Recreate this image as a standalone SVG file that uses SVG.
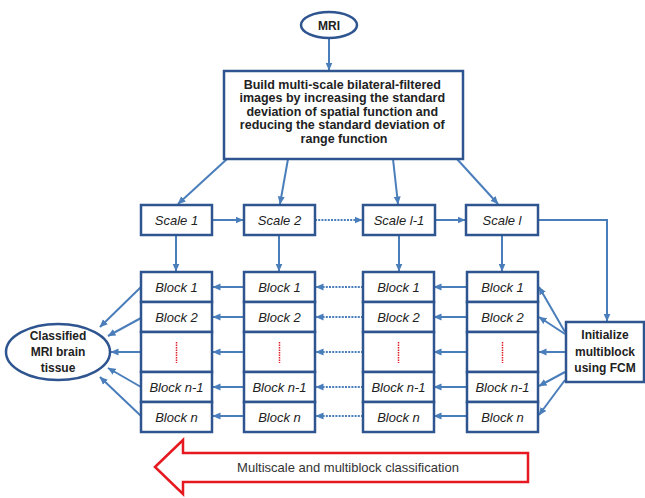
<svg xmlns="http://www.w3.org/2000/svg" width="645" height="498" viewBox="0 0 645 498">
<defs>
<marker id="ah" markerUnits="userSpaceOnUse" markerWidth="8" markerHeight="8" viewBox="0 0 8 8" refX="7.5" refY="4" orient="auto">
<path d="M0,0.5 L8,4 L0,7.5 Z" fill="#4a7ebb"/>
</marker>
<style>
.box{fill:#fff;stroke:#2f5590;stroke-width:2.5}
.c{fill:none;stroke:#4a7ebb;stroke-width:2;marker-end:url(#ah)}
.d{fill:none;stroke:#4a7ebb;stroke-width:2;stroke-dasharray:2 1.2;marker-end:url(#ah)}
.rd{stroke:#e0202a;stroke-width:1.5;stroke-dasharray:1.5 1}
.b{font-family:"Liberation Sans",Arial,sans-serif;font-weight:bold;font-size:12px;fill:#222;text-anchor:middle}
.i{font-family:"Liberation Sans",Arial,sans-serif;font-style:italic;font-size:13px;fill:#222;text-anchor:middle}
</style>
</defs>

<g id="connectors">
<line class="c" x1="329" y1="39" x2="329" y2="70"/>
<line class="c" x1="227" y1="159" x2="178" y2="204"/>
<line class="c" x1="288" y1="159" x2="280" y2="204"/>
<line class="c" x1="393" y1="159" x2="398" y2="204"/>
<line class="c" x1="457" y1="159" x2="498" y2="204"/>
<line class="c" x1="212" y1="220" x2="243" y2="220"/>
<line class="d" x1="315" y1="220" x2="362" y2="220"/>
<line class="c" x1="435" y1="220" x2="465" y2="220"/>
<path class="c" d="M538,220 H607 V321"/>
<line class="c" x1="176" y1="235" x2="176" y2="271"/>
<line class="c" x1="279" y1="235" x2="279" y2="271"/>
<line class="c" x1="399" y1="235" x2="399" y2="271"/>
<line class="c" x1="502" y1="235" x2="502" y2="271"/>
<line class="c" x1="245" y1="287" x2="213" y2="287"/>
<line class="c" x1="245" y1="317" x2="213" y2="317"/>
<line class="c" x1="245" y1="352" x2="213" y2="352"/>
<line class="c" x1="245" y1="387" x2="213" y2="387"/>
<line class="c" x1="245" y1="416" x2="213" y2="416"/>
<line class="d" x1="363" y1="287" x2="316" y2="287"/>
<line class="d" x1="363" y1="317" x2="316" y2="317"/>
<line class="d" x1="363" y1="352" x2="316" y2="352"/>
<line class="d" x1="363" y1="387" x2="316" y2="387"/>
<line class="d" x1="363" y1="416" x2="316" y2="416"/>
<line class="c" x1="467" y1="287" x2="434" y2="287"/>
<line class="c" x1="467" y1="317" x2="434" y2="317"/>
<line class="c" x1="467" y1="352" x2="434" y2="352"/>
<line class="c" x1="467" y1="387" x2="434" y2="387"/>
<line class="c" x1="467" y1="416" x2="434" y2="416"/>
<line class="c" x1="141" y1="287" x2="100" y2="327"/>
<line class="c" x1="141" y1="318" x2="108" y2="336"/>
<line class="c" x1="141" y1="352" x2="111" y2="352"/>
<line class="c" x1="141" y1="387" x2="108" y2="368"/>
<line class="c" x1="141" y1="416" x2="100" y2="377"/>
<line class="c" x1="565" y1="332" x2="539" y2="287"/>
<line class="c" x1="565" y1="334" x2="539" y2="317"/>
<line class="c" x1="565" y1="352" x2="539" y2="352"/>
<line class="c" x1="565" y1="372" x2="539" y2="386"/>
<line class="c" x1="565" y1="380" x2="539" y2="415"/>
</g>

<g id="mri">
<ellipse class="box" cx="329" cy="25" rx="28" ry="13"/>
<text class="b" x="329" y="29.5">MRI</text>
</g>

<g id="build">
<rect class="box" x="224" y="71" width="239" height="88"/>
<text class="b" style="font-size:12.5px">
<tspan x="344" y="88.5">Build multi-scale bilateral-filtered</tspan>
<tspan x="344" y="102">images by increasing the standard</tspan>
<tspan x="344" y="115.5">deviation of spatial function and</tspan>
<tspan x="344" y="129">reducing the standard deviation of</tspan>
<tspan x="344" y="142.5">range function</tspan>
</text>
</g>

<g id="scale1"><rect class="box" x="141" y="205" width="71" height="30"/><text class="i" x="176.5" y="224.5">Scale 1</text></g>
<g id="scale2"><rect class="box" x="244" y="205" width="71" height="30"/><text class="i" x="279.5" y="224.5">Scale 2</text></g>
<g id="scale-l-1"><rect class="box" x="363" y="205" width="72" height="30"/><text class="i" x="399" y="224.5">Scale l-1</text></g>
<g id="scale-l"><rect class="box" x="466" y="205" width="72" height="30"/><text class="i" x="502" y="224.5">Scale l</text></g>

<g id="col1">
<rect class="box" x="141" y="272" width="71" height="30"/>
<rect class="box" x="141" y="302" width="71" height="30"/>
<rect class="box" x="141" y="332" width="71" height="40"/>
<rect class="box" x="141" y="372" width="71" height="30"/>
<rect class="box" x="141" y="402" width="71" height="30"/>
<text class="i" x="176.5" y="291.5">Block 1</text>
<text class="i" x="176.5" y="321.5">Block 2</text>
<line class="rd" x1="176.5" y1="342" x2="176.5" y2="363"/>
<text class="i" x="176.5" y="391.5">Block n-1</text>
<text class="i" x="176.5" y="421.5">Block n</text>
</g>

<g id="col2">
<rect class="box" x="244" y="272" width="71" height="30"/>
<rect class="box" x="244" y="302" width="71" height="30"/>
<rect class="box" x="244" y="332" width="71" height="40"/>
<rect class="box" x="244" y="372" width="71" height="30"/>
<rect class="box" x="244" y="402" width="71" height="30"/>
<text class="i" x="279.5" y="291.5">Block 1</text>
<text class="i" x="279.5" y="321.5">Block 2</text>
<line class="rd" x1="279.5" y1="342" x2="279.5" y2="363"/>
<text class="i" x="279.5" y="391.5">Block n-1</text>
<text class="i" x="279.5" y="421.5">Block n</text>
</g>

<g id="col3">
<rect class="box" x="363" y="272" width="71" height="30"/>
<rect class="box" x="363" y="302" width="71" height="30"/>
<rect class="box" x="363" y="332" width="71" height="40"/>
<rect class="box" x="363" y="372" width="71" height="30"/>
<rect class="box" x="363" y="402" width="71" height="30"/>
<text class="i" x="398.5" y="291.5">Block 1</text>
<text class="i" x="398.5" y="321.5">Block 2</text>
<line class="rd" x1="398.5" y1="342" x2="398.5" y2="363"/>
<text class="i" x="398.5" y="391.5">Block n-1</text>
<text class="i" x="398.5" y="421.5">Block n</text>
</g>

<g id="col4">
<rect class="box" x="467" y="272" width="71" height="30"/>
<rect class="box" x="467" y="302" width="71" height="30"/>
<rect class="box" x="467" y="332" width="71" height="40"/>
<rect class="box" x="467" y="372" width="71" height="30"/>
<rect class="box" x="467" y="402" width="71" height="30"/>
<text class="i" x="502.5" y="291.5">Block 1</text>
<text class="i" x="502.5" y="321.5">Block 2</text>
<line class="rd" x1="502.5" y1="342" x2="502.5" y2="363"/>
<text class="i" x="502.5" y="391.5">Block n-1</text>
<text class="i" x="502.5" y="421.5">Block n</text>
</g>

<g id="classified">
<ellipse class="box" cx="58" cy="352" rx="52" ry="28"/>
<text class="b"><tspan x="58" y="339.5">Classified</tspan><tspan x="58" y="356">MRI brain</tspan><tspan x="58" y="372">tissue</tspan></text>
</g>

<g id="initialize">
<rect class="box" x="566" y="322" width="78" height="60"/>
<text class="b"><tspan x="605" y="339">Initialize</tspan><tspan x="605" y="355.5">multiblock</tspan><tspan x="605" y="372">using FCM</tspan></text>
</g>

<g id="bottom-arrow">
<polygon points="155,467 183,440 183,453 528,453 528,482 183,482 183,494" fill="#fff" stroke="#e5191f" stroke-width="2.5" stroke-linejoin="miter"/>
<text x="348" y="471.5" font-family="'Liberation Sans',Arial,sans-serif" font-size="13" fill="#333" text-anchor="middle">Multiscale and multiblock classification</text>
</g>
</svg>
